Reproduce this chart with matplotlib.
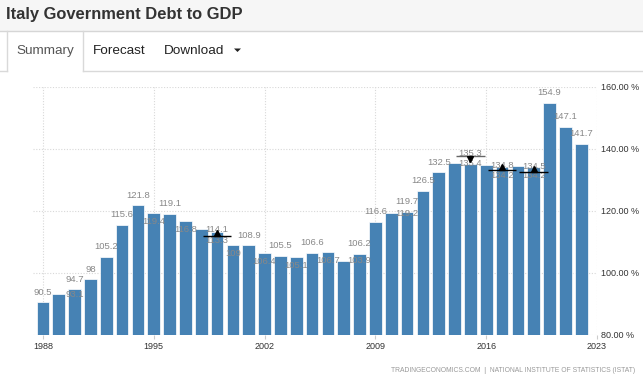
import matplotlib
matplotlib.use("Agg")
import matplotlib.pyplot as plt
from matplotlib.patches import Rectangle, Polygon
from matplotlib.lines import Line2D
import matplotlib.transforms as mtransforms

# ---------------- data ----------------
years = list(range(1988, 2023))
debt = [90.5, 93.1, 94.7, 98.0, 105.2, 115.6, 121.8, 119.4, 119.1, 116.8,
        114.1, 113.3, 109.0, 108.9, 106.4, 105.5, 105.1, 106.6, 106.7, 103.9,
        106.2, 116.6, 119.2, 119.7, 126.5, 132.5, 135.4, 135.3, 134.8, 134.2,
        134.5, 134.2, 154.9, 147.1, 141.7]
# label placement: a = above bar, b = just inside bar top, s = drawn on next bar
label_mode = ['a', 's', 'a', 'a', 'a', 'a', 'a', 'b', 'a', 'b',
              's', 'b', 'b', 'a', 'b', 'a', 'b', 'a', 'b', 's',
              'a', 'a', 's', 'a', 'a', 'a', 's', 'a', 's', 'b',
              's', 'b', 'a', 'a', 'a']
marker_years = [1999, 2015, 2017, 2019]
marker_values = [112.0, 137.7, 133.2, 132.7]
marker_dirs = ['up', 'down', 'up', 'up']
x_ticks = [1988, 1995, 2002, 2009, 2016, 2023]
y_ticks = [80, 100, 120, 140, 160]

title = "Italy Government Debt to GDP"
tabs = ["Summary", "Forecast", "Download"]
source = "TRADINGECONOMICS.COM  |  NATIONAL INSTITUTE OF STATISTICS (ISTAT)"

# ---------------- figure ----------------
W, H = 643, 379
plt.rcParams['font.family'] = ['Liberation Sans', 'DejaVu Sans']
fig = plt.figure(figsize=(W / 100, H / 100), dpi=100)
fig.patch.set_facecolor('white')

def fx(x):
    return x / W

def fy(y):
    return 1 - y / H

# header bar
fig.patches.append(Rectangle((0, fy(31)), 1, 31 / H, transform=fig.transFigure,
                             facecolor='#f6f6f6', edgecolor='none', zorder=0))
fig.lines.append(Line2D([0, 1], [fy(31), fy(31)], transform=fig.transFigure,
                        color='#d6d6d6', lw=1))
fig.text(fx(6), fy(14), title, fontsize=11.9, fontweight='bold', color='#333333',
         ha='left', va='center')

# tabs
tab_line = '#d9d9d9'
fig.lines.append(Line2D([0, fx(7)], [fy(71), fy(71)], transform=fig.transFigure, color=tab_line, lw=1))
fig.lines.append(Line2D([fx(83), 1], [fy(71), fy(71)], transform=fig.transFigure, color=tab_line, lw=1))
fig.lines.append(Line2D([fx(7), fx(7)], [fy(31), fy(71)], transform=fig.transFigure, color=tab_line, lw=1))
fig.lines.append(Line2D([fx(83), fx(83)], [fy(31), fy(71)], transform=fig.transFigure, color=tab_line, lw=1))
fig.text(fx(16), fy(51), tabs[0], fontsize=9.7, color='#555555', ha='left', va='center')
fig.text(fx(93), fy(51), tabs[1], fontsize=9.7, color='#222222', ha='left', va='center')
fig.text(fx(164), fy(51), tabs[2], fontsize=9.7, color='#222222', ha='left', va='center')
fig.patches.append(Polygon([(fx(234), fy(48.5)), (fx(241), fy(48.5)), (fx(237.5), fy(52))],
                           closed=True, transform=fig.transFigure, facecolor='#222222',
                           edgecolor='none'))

# ---------------- chart ----------------
ax = fig.add_axes([fx(33), fy(335), (597 - 33) / W, (335 - 87) / H])
ax.set_facecolor('white')
ax.bar(years, debt, width=0.8, color='#4682b4', edgecolor='white', linewidth=0.5, zorder=2)
ax.set_xlim(1987.37, 2023)
ax.set_ylim(80, 160)

ax.set_xticks(x_ticks)
ax.set_xticklabels([str(t) for t in x_ticks])
ax.set_yticks(y_ticks)
ax.set_yticklabels([f"{t:.2f} %" for t in y_ticks])
ax.yaxis.tick_right()
ax.grid(True, linestyle=(0, (1, 1.5)), color='#d8d8d8', linewidth=0.8, zorder=0)
ax.set_axisbelow(True)
for s in ax.spines.values():
    s.set_visible(False)
ax.tick_params(axis='y', length=0, pad=3, labelsize=6.5, labelcolor='#333333')
ax.tick_params(axis='x', length=3, color='#cccccc', pad=2, labelsize=6.5, labelcolor='#333333')

px2pt = 0.72
for yr, v, m in zip(years, debt, label_mode):
    txt = f"{v:g}"
    if m == 'a':
        x, dy = yr, 10 * px2pt
    elif m == 'b':
        x, dy = yr, -8.5 * px2pt
    else:
        x, dy = yr + 1, 0
    ax.annotate(txt, (x, v), xytext=(0, dy), textcoords='offset points',
                ha='center', va='center', fontsize=6.8, color='#888888',
                zorder=4, annotation_clip=False)

for yr, v, d in zip(marker_years, marker_values, marker_dirs):
    lc = 'black' if d == 'up' else '#666666'
    ax.plot([yr - 0.9, yr + 0.9], [v, v], color=lc, lw=1, zorder=5, solid_capstyle='butt')
    off = 2.2 if d == 'up' else -2.2
    tr = mtransforms.offset_copy(ax.transData, fig=fig, x=0, y=off, units='points')
    ax.plot([yr], [v], marker='^' if d == 'up' else 'v', ms=4.5, color='black',
            transform=tr, zorder=6, linestyle='none')

fig.text(fx(635), fy(371), source, fontsize=4.85, color='#999999', ha='right', va='center')

fig.savefig('out.png', dpi=100, facecolor='white')
